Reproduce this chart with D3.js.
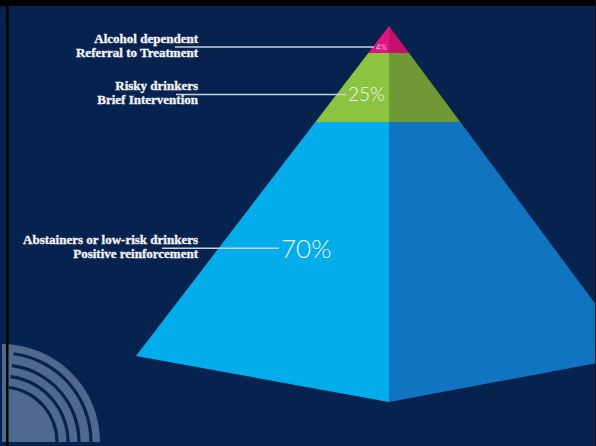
<!DOCTYPE html>
<html>
  <head>
    <meta charset="utf-8">
    <script type="text/javascript" src="https://cdn.jsdelivr.net/npm/d3@7/dist/d3.min.js"></script>
    <style>
      body { margin: 0; background: #062350; }
      .label {
        font-family: "Liberation Serif", "Times New Roman", serif;
        font-weight: bold;
        font-size: 13px;
        fill: #f3f3f3;
        stroke: #f3f3f3;
        stroke-width: 0.35;
      }
      .pct {
        font-family: Lato, "Open Sans", sans-serif;
        font-weight: 300;
        fill: #f2f6f8;
      }
    </style>
  </head>
  <body>
    <div id="chart"></div>
  <script>
  (function (d3) {
    'use strict';

    // data, top of pyramid first
    var groups = ['Alcohol dependent', 'Risky drinkers', 'Abstainers or low-risk drinkers'];
    var actions = ['Referral to Treatment', 'Brief Intervention', 'Positive reinforcement'];
    var percents = [4, 25, 70];
    var pctLabels = ['4%', '25%', '70%'];

    // look
    var leftColors = ['#e0147e', '#8cc43f', '#02adec'];
    var rightColors = ['#c3106f', '#6e9934', '#0f75c1'];
    var pctSizes = [8, 19, 26];
    var labelFrac = [0.78, 0.6, 0.54];   // where the leader sits inside each band
    var lineStart = [175, 176, 162];
    var pctX = [376, 348, 281];

    var width = 596, height = 446;
    var cx = 389, apexY = 26, baseY = 356, frontY = 402;
    var leftCornerX = 136, rightCornerX = 634;
    var textRight = 198;

    var svg = d3.select('#chart')
      .append('svg')
      .attr('width', width)
      .attr('height', height);

    svg.append('rect')
      .attr('width', width).attr('height', height)
      .attr('fill', '#062350');

    // decorative rings bottom left
    var ring = svg.append('g').attr('transform', 'translate(2,442)');
    ring.append('path')
      .attr('d', d3.arc()({ innerRadius: 0, outerRadius: 98, startAngle: 0, endAngle: Math.PI / 2 }))
      .attr('fill', '#4f6890');
    [89, 77, 66, 55].forEach(function (r) {
      ring.append('path')
        .attr('d', d3.arc()({ innerRadius: r - 1.6, outerRadius: r + 1.6, startAngle: 0.13, endAngle: Math.PI / 2 }))
        .attr('fill', '#062350');
    });

    // cumulative percentages -> band boundaries
    var cum = [0];
    percents.forEach(function (p, i) { cum.push(cum[i] + p); });

    var y = d3.scaleLinear().domain(cum).range([apexY, 53, 122, baseY]);
    var xLeft = d3.scaleLinear().domain([apexY, baseY]).range([cx, leftCornerX]);
    var xRight = d3.scaleLinear().domain([apexY, baseY]).range([cx, rightCornerX]);

    var bands = percents.map(function (p, i) {
      return { i: i, top: y(cum[i]), bottom: y(cum[i + 1]), last: i === percents.length - 1 };
    });

    var line = d3.line();

    function leftFace(b) {
      if (b.last) {
        return [[xLeft(b.top), b.top], [cx, b.top], [cx, frontY], [leftCornerX, baseY]];
      }
      return [[xLeft(b.top), b.top], [cx, b.top], [cx, b.bottom], [xLeft(b.bottom), b.bottom]];
    }
    function rightFace(b) {
      if (b.last) {
        return [[cx, b.top], [xRight(b.top), b.top], [rightCornerX, baseY], [cx, frontY]];
      }
      return [[cx, b.top], [xRight(b.top), b.top], [xRight(b.bottom), b.bottom], [cx, b.bottom]];
    }

    var pyr = svg.append('g');
    pyr.selectAll('path.left')
      .data(bands)
      .enter()
      .append('path')
      .attr('class', 'left')
      .attr('d', function (d) { return line(leftFace(d)) + 'Z'; })
      .attr('fill', function (d) { return leftColors[d.i]; });
    pyr.selectAll('path.right')
      .data(bands)
      .enter()
      .append('path')
      .attr('class', 'right')
      .attr('d', function (d) { return line(rightFace(d)) + 'Z'; })
      .attr('fill', function (d) { return rightColors[d.i]; });

    // labels + leader lines
    var lab = svg.selectAll('.lab')
      .data(bands)
      .enter()
      .append('g')
      .attr('class', 'lab')
      .attr('transform', function (d) {
        return 'translate(0,' + (d.top + (d.bottom - d.top) * labelFrac[d.i]) + ')';
      });

    lab.append('line')
      .attr('x1', function (d) { return lineStart[d.i]; })
      .attr('x2', function (d) { return pctX[d.i] - 2; })
      .attr('stroke', '#c9d0dc')
      .attr('stroke-width', 1.5);

    lab.append('text')
      .attr('class', 'label')
      .attr('x', textRight)
      .attr('y', -4)
      .attr('text-anchor', 'end')
      .text(function (d) { return groups[d.i]; });

    lab.append('text')
      .attr('class', 'label')
      .attr('x', textRight)
      .attr('y', 10)
      .attr('text-anchor', 'end')
      .text(function (d) { return actions[d.i]; });

    lab.append('text')
      .attr('class', 'pct')
      .attr('x', function (d) { return pctX[d.i]; })
      .attr('y', function (d) { return pctSizes[d.i] * 0.36; })
      .style('font-size', function (d) { return pctSizes[d.i] + 'px'; })
      .text(function (d) { return pctLabels[d.i]; });

    // scanned frame edges
    svg.append('rect').attr('x', 0).attr('y', 0).attr('width', width).attr('height', 6).attr('fill', '#000');
    svg.append('rect').attr('x', 6).attr('y', 0).attr('width', 2.5).attr('height', height).attr('fill', '#000');
    svg.append('rect').attr('x', 595).attr('y', 0).attr('width', 1).attr('height', height).attr('fill', '#0a0f1c');

  })(window.d3);
  </script>
  </body>
</html>
